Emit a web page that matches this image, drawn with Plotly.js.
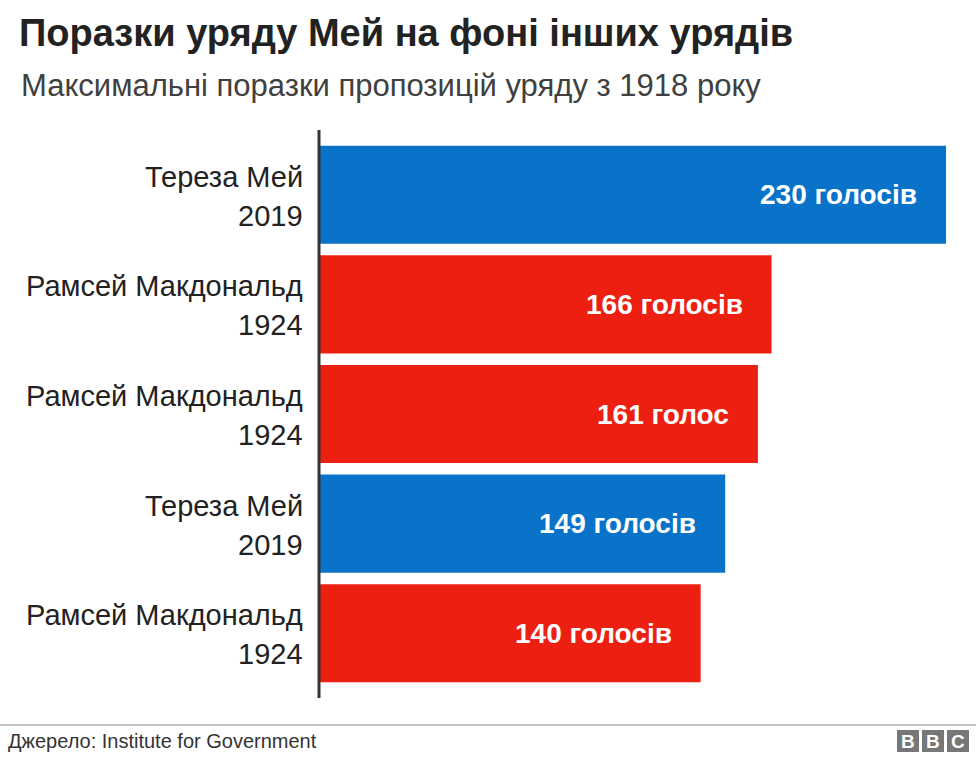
<!DOCTYPE html>
<html>
<head>
<meta charset="utf-8">
<script src="https://cdn.plot.ly/plotly-3.0.1.min.js"></script>
<style>
html,body{margin:0;padding:0;background:#fff;}
#chart{width:976px;height:760px;}
</style>
</head>
<body>
<div id="chart"></div>
<script>
const names = ["Тереза Мей", "Рамсей Макдональд", "Рамсей Макдональд", "Тереза Мей", "Рамсей Макдональд"];
const years = ["2019", "1924", "1924", "2019", "1924"];
const votes = [230, 166, 161, 149, 140];
const valueLabels = ["230 голосів", "166 голосів", "161 голос", "149 голосів", "140 голосів"];
const barColors = ["#0873c9", "#ec1f10", "#ec1f10", "#0873c9", "#ec1f10"];

const cats = votes.map((v, i) => "c" + i);
const FONT = "Liberation Sans, Arial, Helvetica, sans-serif";

const trace = {
  type: "bar",
  orientation: "h",
  x: votes,
  y: cats,
  marker: {color: barColors, line: {width: 0}},
  width: 0.895,
  hoverinfo: "none"
};

const annotations = [];
votes.forEach((v, i) => {
  annotations.push({
    x: v, y: cats[i], xref: "x", yref: "y",
    text: "<b>" + valueLabels[i] + "</b>",
    showarrow: false, xanchor: "right", yanchor: "middle",
    xshift: -27, yshift: 0,
    font: {family: FONT, size: 28, color: "#ffffff"}
  });
  annotations.push({
    x: 0, y: cats[i], xref: "paper", yref: "y",
    text: names[i],
    showarrow: false, xanchor: "right", yanchor: "middle",
    xshift: -14, yshift: 18,
    font: {family: FONT, size: 29, color: "#222222"}
  });
  annotations.push({
    x: 0, y: cats[i], xref: "paper", yref: "y",
    text: years[i],
    showarrow: false, xanchor: "right", yanchor: "middle",
    xshift: -14, yshift: -21,
    font: {family: FONT, size: 29, color: "#222222"}
  });
});

const layout = {
  width: 976, height: 760,
  paper_bgcolor: "#ffffff", plot_bgcolor: "#ffffff",
  margin: {l: 319, r: 0, t: 130, b: 62},
  showlegend: false,
  xaxis: {range: [0, 241], visible: false, fixedrange: true},
  yaxis: {
    type: "category",
    categoryorder: "array", categoryarray: cats,
    range: [4.59, -0.59],
    showticklabels: false, showgrid: false, zeroline: false, showline: false,
    ticks: "", fixedrange: true
  },
  shapes: [
    {type: "line", xref: "paper", yref: "paper", x0: 0, x1: 0, y0: 0, y1: 1,
     line: {color: "#333333", width: 3}}
  ],
  annotations: annotations
};

const plotW = 976 - layout.margin.l - layout.margin.r;
const plotH = 760 - layout.margin.t - layout.margin.b;
function px2paperX(px){ return (px - layout.margin.l) / plotW; }
function px2paperY(py){ return (760 - layout.margin.b - py) / plotH; }

// Title, subtitle
layout.annotations.push({
  x: px2paperX(17), y: px2paperY(33), xref: "paper", yref: "paper",
  text: "<b>Поразки уряду Мей на фоні інших урядів</b>",
  showarrow: false, xanchor: "left", yanchor: "middle",
  font: {family: FONT, size: 38, color: "#222222"}
});
layout.annotations.push({
  x: px2paperX(19), y: px2paperY(85), xref: "paper", yref: "paper",
  text: "Максимальні поразки пропозицій уряду з 1918 року",
  showarrow: false, xanchor: "left", yanchor: "middle",
  font: {family: FONT, size: 31, color: "#404040"}
});

// source line and BBC logo
layout.shapes.push({type: "line", xref: "paper", yref: "paper",
  x0: px2paperX(0), x1: px2paperX(976), y0: px2paperY(725), y1: px2paperY(725),
  line: {color: "#888888", width: 1}});
layout.annotations.push({
  x: px2paperX(6), y: px2paperY(741), xref: "paper", yref: "paper",
  text: "Джерело: Institute for Government",
  showarrow: false, xanchor: "left", yanchor: "middle",
  font: {family: FONT, size: 20, color: "#333333"}
});
const bbc = ["B", "B", "C"];
bbc.forEach((ch, i) => {
  const x0 = 897 + i * 25;
  layout.shapes.push({type: "rect", xref: "paper", yref: "paper",
    x0: px2paperX(x0), x1: px2paperX(x0 + 22), y0: px2paperY(752), y1: px2paperY(730),
    fillcolor: "#777777", line: {width: 0}});
  layout.annotations.push({
    x: px2paperX(x0 + 11), y: px2paperY(741), xref: "paper", yref: "paper",
    text: "<b>" + ch + "</b>", showarrow: false, xanchor: "center", yanchor: "middle",
    font: {family: FONT, size: 19, color: "#ffffff"}
  });
});

Plotly.newPlot("chart", [trace], layout, {displayModeBar: false, staticPlot: true});
</script>
</body>
</html>
